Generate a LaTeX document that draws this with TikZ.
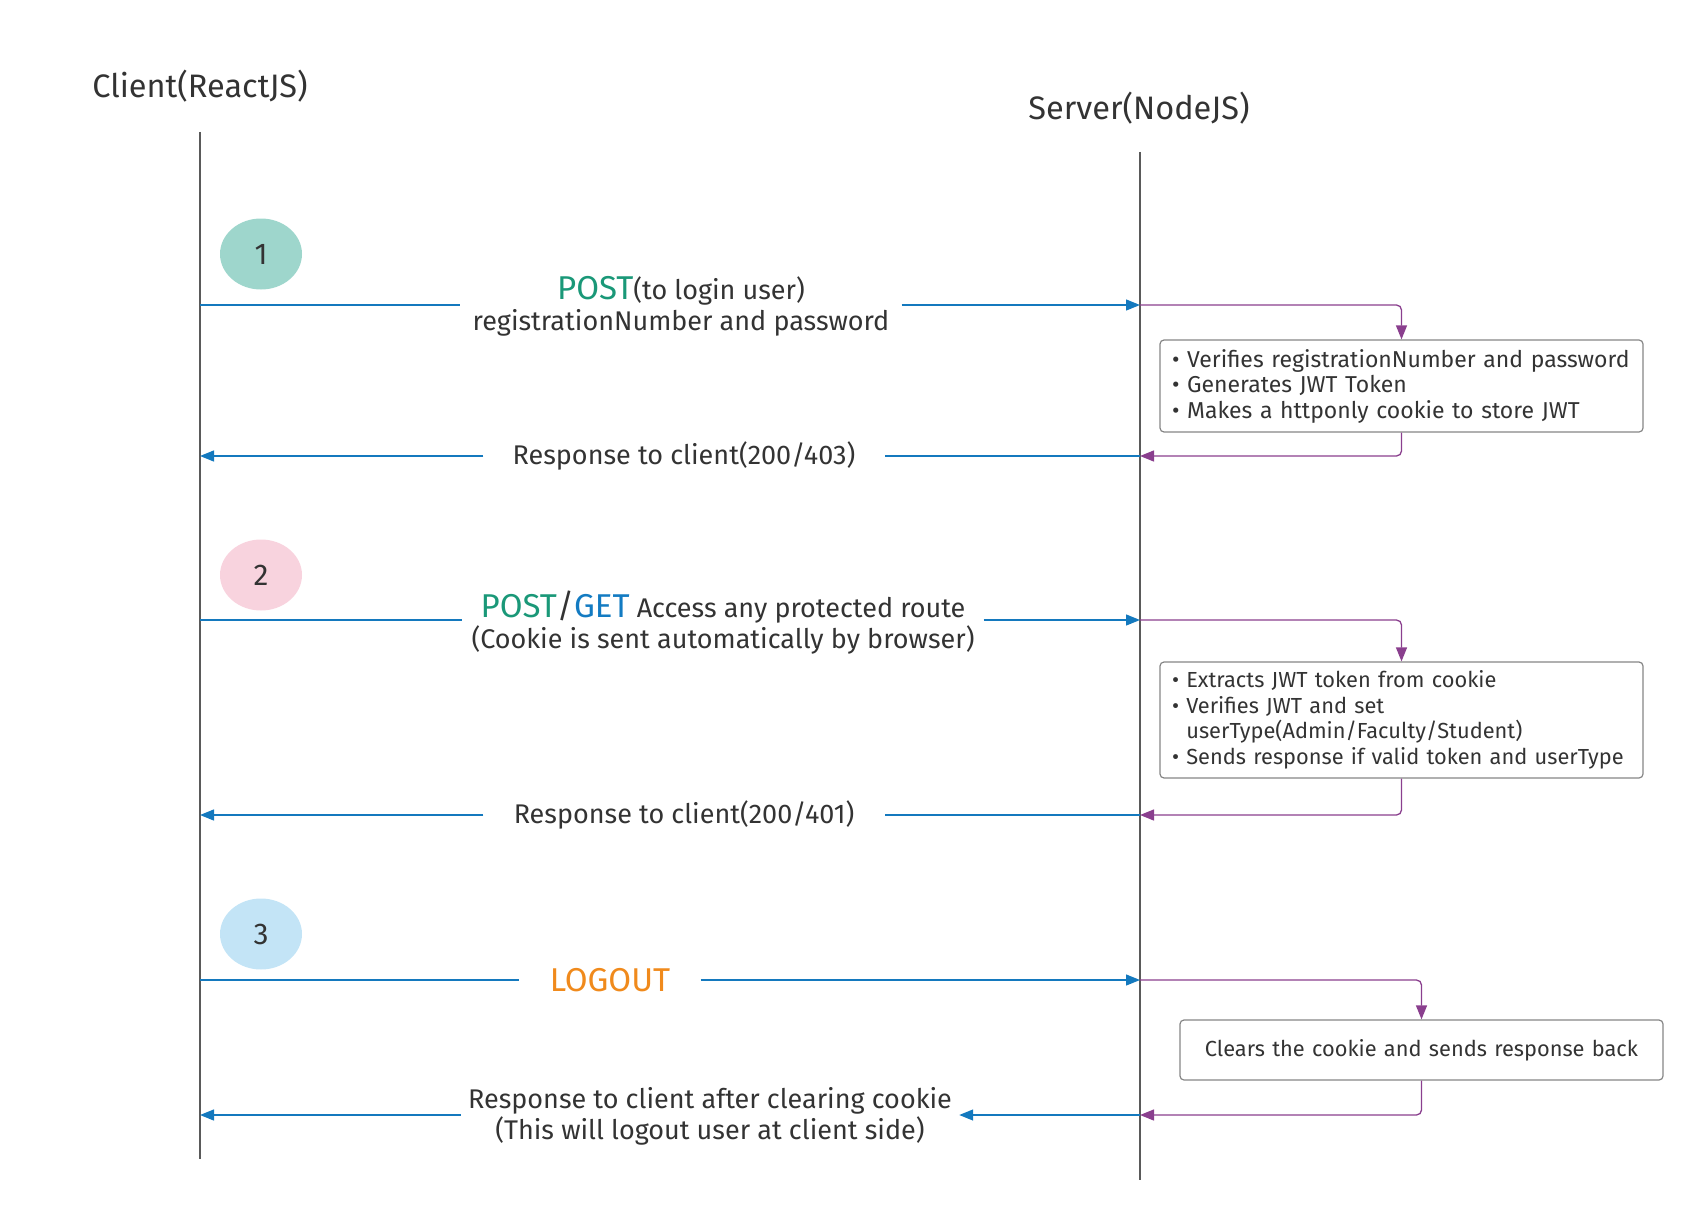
\documentclass[tikz,border=0pt]{standalone}
\usepackage{fontspec}
\setmainfont{Fira Sans}
\usetikzlibrary{arrows.meta, positioning, shapes.geometric}

\definecolor{lifegray}{HTML}{5A5A5A}
\definecolor{msgblue}{HTML}{1479BE}
\definecolor{procpurple}{HTML}{8A3F8E}
\definecolor{boxgray}{HTML}{858585}
\definecolor{txtgray}{HTML}{333333}
\definecolor{postgreen}{HTML}{1A9878}
\definecolor{getblue}{HTML}{137BC2}
\definecolor{logoutorange}{HTML}{F08A1C}
\definecolor{stepone}{HTML}{9ED6CC}
\definecolor{steptwo}{HTML}{F8D3DE}
\definecolor{stepthree}{HTML}{C3E4F6}

\newcommand{\titlefont}{\fontsize{32.5}{38}\selectfont}
\newcommand{\bodyfont}{\fontsize{27}{31}\selectfont}
\newcommand{\bigfont}{\fontsize{33}{31}\selectfont}
\newcommand{\boxfont}{\fontsize{23}{25.5}\selectfont}
\newcommand{\smallboxfont}{\fontsize{21.8}{25.5}\selectfont}
\newcommand{\markfont}{\fontsize{30}{34}\selectfont}
\newcommand{\task}[1]{\mbox{\textbullet\ #1}}

\tikzset{
	lifeline/.style={draw=lifegray, line width=1.6pt},
	msg/.style={draw=msgblue, line width=1.3pt},
	proc/.style={draw=procpurple, line width=1.3pt, rounded corners=5pt},
	title/.style={anchor=base, font=\titlefont, inner sep=0pt},
	stepmark/.style={ellipse, minimum width=82pt, minimum height=71pt, inner sep=0pt, font=\markfont},
	msglabel/.style={inner sep=0pt, align=center, font=\bodyfont},
	taskbox/.style={draw=boxgray, line width=1.2pt, rounded corners=4pt, minimum width=483pt, text width=459pt, inner xsep=12pt, inner ysep=0pt, align=left, font=\boxfont}
}

\begin{document}
\begin{tikzpicture}[x=1pt,y=-1pt,>={Triangle[length=14pt,width=11pt]},text=txtgray]
	\useasboundingbox (0,0) rectangle (1700,1220);
	
	% lifelines
	\node (client) [title] at (200,98) {Client(ReactJS)};
	\node (server) [title] at (1139,120) {Server(NodeJS)};
	\coordinate (ctop) at (200,132);
	\coordinate (cbot) at (200,1159);
	\coordinate (stop) at (1140,152);
	\coordinate (sbot) at (1140,1180);
	\draw [lifeline] (ctop) -- (cbot);
	\draw [lifeline] (stop) -- (sbot);
	
	% step marks
	\node (one) [stepmark, fill=stepone] at (261,254) {1};
	\node (two) [stepmark, fill=steptwo] at (261,575) {2};
	\node (three) [stepmark, fill=stepthree] at (261,934) {3};
	
	% message points on the lifelines
	\coordinate (c1) at (200,305);
	\coordinate (s1) at (1140,305);
	\coordinate (c2) at (200,456);
	\coordinate (s2) at (1140,456);
	\coordinate (c3) at (200,620);
	\coordinate (s3) at (1140,620);
	\coordinate (c4) at (200,815);
	\coordinate (s4) at (1140,815);
	\coordinate (c5) at (200,980);
	\coordinate (s5) at (1140,980);
	\coordinate (c6) at (200,1115);
	\coordinate (s6) at (1140,1115);
	
	% labels
	\node (login) [msglabel, minimum width=441pt] at (681,306) {{\bigfont\textcolor{postgreen}{POST}}(to login user)\\registrationNumber and password};
	\node (resp1) [msglabel, minimum width=401pt] at (684,456) {Response to client(200/403)};
	\node (access) [msglabel, minimum width=521pt] at (723,623) {{\bigfont\textcolor{postgreen}{POST}/\textcolor{getblue}{GET}} Access any protected route\\(Cookie is sent automatically by browser)};
	\node (resp2) [msglabel, minimum width=401pt] at (684,815) {Response to client(200/401)};
	\node (logout) [msglabel, minimum width=181pt] at (610,980) {\bigfont\textcolor{logoutorange}{LOGOUT}};
	\node (resp3) [msglabel, minimum width=498pt] at (710,1116) {Response to client after clearing cookie\\(This will logout user at client side)};
	
	% server tasks
	\node (verify) [taskbox, minimum height=92pt] at (1401.5,386) {\task{Verifies registrationNumber and password}\\\task{Generates JWT Token}\\\task{Makes a httponly cookie to store JWT}};
	\node (extract) [taskbox, minimum height=116pt, font=\smallboxfont] at (1401.5,720) {\task{Extracts JWT token from cookie}\\\task{Verifies JWT and set}\\\hphantom{\textbullet\ }userType(Admin/Faculty/Student)\\\task{Sends response if valid token and userType}};
	\node (clear) [taskbox, minimum height=60pt, align=center, font=\smallboxfont] at (1421.5,1050) {Clears the cookie and sends response back};
	
	% step 1
	\draw [msg] (c1) -- (c1 -| login.west);
	\draw [msg, ->] (s1 -| login.east) -- (s1);
	\draw [proc, ->] (s1) -| (verify.north);
	\draw [proc, ->] (verify.south) |- (s2);
	\draw [msg] (s2) -- (s2 -| resp1.east);
	\draw [msg, ->] (c2 -| resp1.west) -- (c2);
	
	% step 2
	\draw [msg] (c3) -- (c3 -| access.west);
	\draw [msg, ->] (s3 -| access.east) -- (s3);
	\draw [proc, ->] (s3) -| (extract.north);
	\draw [proc, ->] (extract.south) |- (s4);
	\draw [msg] (s4) -- (s4 -| resp2.east);
	\draw [msg, ->] (c4 -| resp2.west) -- (c4);
	
	% step 3
	\draw [msg] (c5) -- (c5 -| logout.west);
	\draw [msg, ->] (s5 -| logout.east) -- (s5);
	\draw [proc, ->] (s5) -| (clear.north);
	\draw [proc, ->] (clear.south) |- (s6);
	\draw [msg, ->] (s6) -- (s6 -| resp3.east);
	\draw [msg, ->] (c6 -| resp3.west) -- (c6);
\end{tikzpicture}
\end{document}
